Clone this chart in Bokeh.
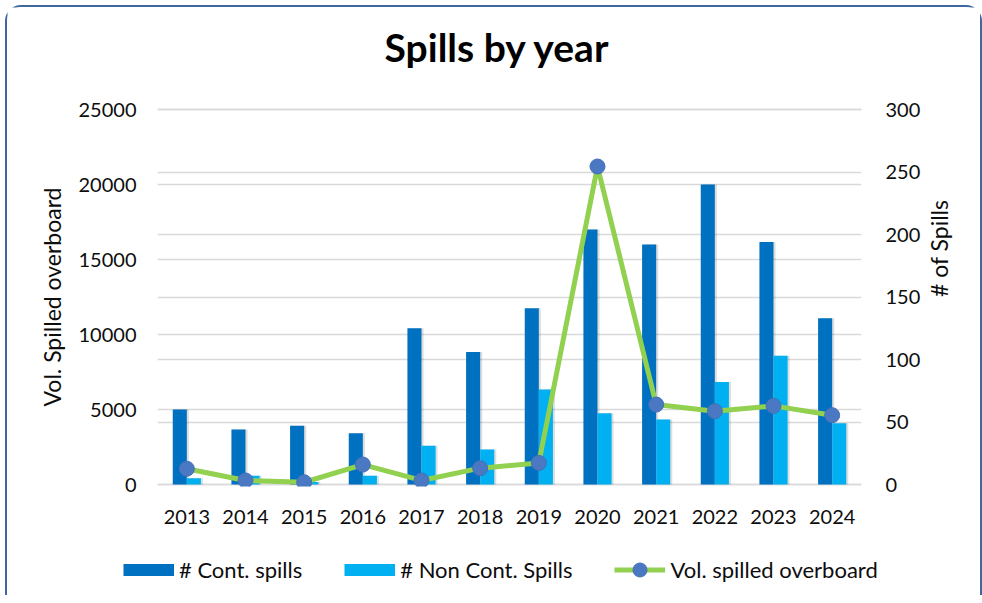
import math
from bokeh.plotting import figure
from bokeh.layouts import column
from bokeh.models import (Range1d, LinearAxis, FactorRange, SingleIntervalTicker, Grid,
                          Legend, LegendItem, ColumnDataSource, Label)
from bokeh.transform import dodge
from bokeh.embed import file_html
from bokeh.resources import INLINE

years = ["2013", "2014", "2015", "2016", "2017", "2018", "2019", "2020", "2021", "2022", "2023", "2024"]
cont_spills = [60, 44, 47, 41, 125, 106, 141, 204, 192, 240, 194, 133]
non_cont_spills = [5, 7, 2, 7, 31, 28, 76, 57, 52, 82, 103, 49]
vol_overboard = [1050, 270, 150, 1330, 270, 1090, 1440, 21200, 5330, 4890, 5240, 4620]
vol_ticks = [0, 5000, 10000, 15000, 20000, 25000]
count_ticks = [0, 50, 100, 150, 200, 250, 300]

FONT = "Lato"
GRID = "#D9D9D9"
TXT = "#0d0d0d"
C_CONT = "#0070C0"
C_NON = "#00B0F0"
C_LINE = "#92D050"
C_PT = "#4A78C2"


def no_align(fig):
    try:
        fig.frame_align = False
    except Exception:
        pass


source = ColumnDataSource(dict(years=years, cont=cont_spills, non=non_cont_spills, vol=vol_overboard))

vpad = (vol_ticks[-1] - vol_ticks[0]) * 2 / 375
cpad = (count_ticks[-1] - count_ticks[0]) * 2 / 375

# ---- title strip
head = figure(width=973, height=80, x_range=(0, 1), y_range=(0, 1), output_backend="svg",
              toolbar_location=None, x_axis_type=None, y_axis_type=None, min_border=0, title=None)
head.outline_line_color = None
head.grid.grid_line_color = None
no_align(head)
head.add_layout(Label(x=490, y=41, x_units="screen", y_units="screen", text="Spills by year",
                      text_align="center", text_baseline="alphabetic", text_font=FONT,
                      text_font_size="39px", text_font_style="bold", text_color="#000000"))

# ---- main chart
p = figure(width=973, height=453, x_range=FactorRange(*years),
           y_range=Range1d(vol_ticks[0] - vpad, vol_ticks[-1] + vpad),
           output_backend="svg", toolbar_location=None, title=None,
           min_border_left=150, min_border_right=119, min_border_top=20, min_border_bottom=54)
p.extra_y_ranges = {"count": Range1d(count_ticks[0] - cpad, count_ticks[-1] + cpad)}
p.outline_line_color = None
p.background_fill_color = "white"
p.border_fill_color = "white"
no_align(p)

# left axis
lt = SingleIntervalTicker(interval=vol_ticks[1] - vol_ticks[0])
ax = p.yaxis[0]
ax.ticker = lt
ax.axis_label = "Vol. Spilled overboard"
ax.axis_label_text_font = FONT
ax.axis_label_text_font_size = "23px"
ax.axis_label_text_font_style = "normal"
ax.axis_label_text_color = TXT
ax.axis_label_standoff = 10
ax.major_label_text_font = FONT
ax.major_label_text_font_size = "20px"
ax.major_label_text_color = TXT
ax.major_label_standoff = 15
ax.axis_line_color = None
ax.major_tick_line_color = None
ax.minor_tick_line_color = None

# right axis
rt = SingleIntervalTicker(interval=count_ticks[1] - count_ticks[0])
ax2 = LinearAxis(y_range_name="count", ticker=rt, axis_label="# of Spills")
ax2.axis_label_text_font = FONT
ax2.axis_label_text_font_size = "23px"
ax2.axis_label_text_font_style = "normal"
ax2.axis_label_text_color = TXT
ax2.axis_label_standoff = 16
ax2.axis_label_orientation = math.pi / 2
ax2.major_label_text_font = FONT
ax2.major_label_text_font_size = "20px"
ax2.major_label_text_color = TXT
ax2.major_label_standoff = 18
ax2.axis_line_color = None
ax2.major_tick_line_color = None
ax2.minor_tick_line_color = None
p.add_layout(ax2, "right")

# x axis
xa = p.xaxis[0]
xa.major_label_text_font = FONT
xa.major_label_text_font_size = "20px"
xa.major_label_text_color = TXT
xa.major_label_standoff = 17
xa.axis_line_color = None
xa.major_tick_line_color = None
xa.minor_tick_line_color = None

# grids
p.xgrid.grid_line_color = None
p.ygrid.ticker = lt
p.ygrid.grid_line_color = GRID
p.ygrid.grid_line_width = 1.5
g2 = Grid(dimension=1, y_range_name="count", ticker=rt, grid_line_color=GRID, grid_line_width=1.5)
p.add_layout(g2)

# soft shadows behind the bars
p.vbar(x=dodge("years", -0.085, range=p.x_range), top="cont", width=0.24, source=source,
       y_range_name="count", fill_color="#000000", fill_alpha=0.13, line_color=None)
p.vbar(x=dodge("years", 0.155, range=p.x_range), top="non", width=0.24, source=source,
       y_range_name="count", fill_color="#000000", fill_alpha=0.13, line_color=None)

# bars (right axis)
p.vbar(x=dodge("years", -0.12, range=p.x_range), top="cont", width=0.24, source=source,
       y_range_name="count", fill_color=C_CONT, line_color=None)
p.vbar(x=dodge("years", 0.12, range=p.x_range), top="non", width=0.24, source=source,
       y_range_name="count", fill_color=C_NON, line_color=None)

# line (left axis)
p.line(x="years", y="vol", source=source, line_color=C_LINE, line_width=5)
p.scatter(x="years", y="vol", source=source, size=15, fill_color=C_PT, line_color="#4470B8", line_width=1)

# ---- legend strip
leg = figure(width=973, height=55, x_range=(0, 1), y_range=(0, 1), output_backend="svg",
             toolbar_location=None, x_axis_type=None, y_axis_type=None, min_border=0, title=None)
leg.outline_line_color = None
leg.grid.grid_line_color = None
no_align(leg)
nan = float("nan")
l_cont = leg.line(x=[nan], y=[nan], line_color=C_CONT, line_width=12)
l_non = leg.line(x=[nan], y=[nan], line_color=C_NON, line_width=12)
l_vol = leg.line(x=[nan], y=[nan], line_color=C_LINE, line_width=5)
s_vol = leg.scatter(x=[nan], y=[nan], size=15, fill_color=C_PT, line_color="#4470B8", line_width=1)
legend = Legend(items=[
    LegendItem(label="# Cont. spills", renderers=[l_cont]),
    LegendItem(label="# Non Cont. Spills", renderers=[l_non]),
    LegendItem(label="Vol. spilled overboard", renderers=[l_vol, s_vol]),
], orientation="horizontal", location=(116, 8), glyph_width=51, glyph_height=35,
    label_standoff=5, spacing=42, padding=0, margin=0, border_line_color=None,
    background_fill_alpha=0, label_text_font=FONT, label_text_font_size="22px",
    label_text_color=TXT)
leg.add_layout(legend, "center")

layout = column(head, p, leg, spacing=0)
layout.styles = {"margin-left": "5px", "margin-top": "5px",
                 "border-top": "2px solid #41689E", "border-left": "2px solid #41689E",
                 "border-right": "2px solid #41689E",
                 "border-top-left-radius": "16px", "border-top-right-radius": "16px"}

open("out.html", "w").write(file_html(layout, INLINE))
